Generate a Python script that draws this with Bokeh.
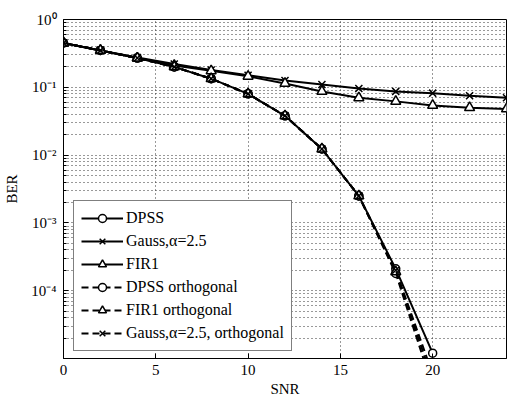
from bokeh.plotting import figure
from bokeh.models import (Range1d, FixedTicker, Legend, LegendItem, CustomJSTickFormatter)
from bokeh.embed import file_html
from bokeh.resources import INLINE

# ---- data ----
snr = [0, 2, 4, 6, 8, 10, 12, 14, 16, 18, 20, 22, 24]
snr_dpss = [0, 2, 4, 6, 8, 10, 12, 14, 16, 18, 20]

ber_dpss = [0.45, 0.35, 0.27, 0.20, 0.134, 0.080, 0.038, 0.0123, 0.0025, 2.1e-4, 1.2e-5]
ber_gauss = [0.45, 0.35, 0.275, 0.22, 0.18, 0.15, 0.126, 0.11, 0.096, 0.087, 0.082, 0.075, 0.070]
ber_fir1 = [0.45, 0.35, 0.27, 0.21, 0.175, 0.145, 0.114, 0.087, 0.070, 0.062, 0.054, 0.050, 0.048]
ber_dpss_orth = [0.45, 0.35, 0.27, 0.20, 0.134, 0.080, 0.038, 0.0123, 0.0025, 1.8e-4, 3.8e-6]
ber_fir1_orth = [0.45, 0.35, 0.27, 0.20, 0.134, 0.080, 0.038, 0.0123, 0.0025, 1.9e-4, 4.8e-6]
ber_gauss_orth = [0.45, 0.35, 0.27, 0.20, 0.134, 0.080, 0.038, 0.0123, 0.0025, 2.0e-4, 5.9e-6]

x_ticks = [0, 5, 10, 15, 20]
y_ticks = [1e-4, 1e-3, 1e-2, 1e-1, 1e0]
y_minor = [m * 10.0 ** e for e in range(-5, 0) for m in range(2, 10)]

FONT = "serif"

p = figure(width=508, height=400, y_axis_type="log",
           x_range=Range1d(0, 24), y_range=Range1d(1e-5, 1),
           output_backend="svg", toolbar_location=None,
           min_border_left=63, min_border_right=2,
           min_border_top=19, min_border_bottom=42)
p.background_fill_color = "white"
p.outline_line_color = "black"
p.outline_line_width = 1

xt = FixedTicker(ticks=x_ticks, minor_ticks=[])
yt = FixedTicker(ticks=y_ticks, minor_ticks=y_minor)

fmt = CustomJSTickFormatter(code="""
const sup = {'0':'\u2070','1':'\u00b9','2':'\u00b2','3':'\u00b3','4':'\u2074',
             '5':'\u2075','6':'\u2076','7':'\u2077','8':'\u2078','9':'\u2079','-':'\u207b'};
const e = Math.round(Math.log10(tick)).toString();
return '10' + e.split('').map(c => sup[c]).join('');
""")

p.xaxis.ticker = xt
p.yaxis.ticker = yt
p.yaxis.formatter = fmt

for ax in list(p.xaxis) + list(p.yaxis):
    ax.major_label_text_font = FONT
    ax.major_label_text_font_size = "15px"
    ax.major_label_text_color = "black"
    ax.axis_label_text_font = FONT
    ax.axis_label_text_font_size = "15px"
    ax.axis_label_text_font_style = "normal"
    ax.axis_label_text_color = "black"
    ax.major_tick_in = 5
    ax.major_tick_out = 0
    ax.minor_tick_in = 3
    ax.minor_tick_out = 0
    ax.axis_line_color = "black"
    ax.major_tick_line_color = "black"
    ax.minor_tick_line_color = "black"

p.xaxis.axis_label = "SNR"
p.yaxis.axis_label = "BER"
p.xaxis.major_label_standoff = 6
p.yaxis.major_label_standoff = 7
p.xaxis.axis_label_standoff = 3
p.yaxis.axis_label_standoff = 8

p.xgrid.ticker = xt
p.ygrid.ticker = yt
for g in (p.xgrid, p.ygrid):
    g.grid_line_color = "#333333"
    g.grid_line_dash = "1 3"
    g.grid_line_width = 1
p.ygrid.minor_grid_line_color = "#333333"
p.ygrid.minor_grid_line_dash = "1 3"
p.ygrid.minor_grid_line_width = 1

LW = 2
series = [
    ("DPSS", snr_dpss, ber_dpss, "circle", "solid", 8),
    ("Gauss,\u03b1=2.5", snr, ber_gauss, "x", "solid", 10),
    ("FIR1", snr, ber_fir1, "triangle", "solid", 10),
    ("DPSS orthogonal", snr_dpss, ber_dpss_orth, "circle", "7 4", 8),
    ("FIR1 orthogonal", snr_dpss, ber_fir1_orth, "triangle", "7 4", 10),
    ("Gauss,\u03b1=2.5, orthogonal", snr_dpss, ber_gauss_orth, "x", "7 4", 10),
]

items = []
for label, xs, ys, marker, dash, size in series:
    ln = p.line(xs, ys, line_color="black", line_width=LW, line_dash=dash)
    sc = p.scatter(xs, ys, marker=marker, size=size, line_color="black",
                   line_width=1.5, fill_color="white")
    items.append(LegendItem(label=label, renderers=[ln, sc]))

legend = Legend(items=items, location=(10, 7), margin=0,
                label_text_font=FONT, label_text_font_size="16px",
                label_text_color="black",
                glyph_width=42, glyph_height=20, label_height=20,
                spacing=3, padding=7, label_standoff=3,
                border_line_color="black", border_line_width=1,
                background_fill_color="white", background_fill_alpha=1)
p.add_layout(legend)

open("out.html", "w", encoding="utf-8").write(file_html(p, INLINE))
